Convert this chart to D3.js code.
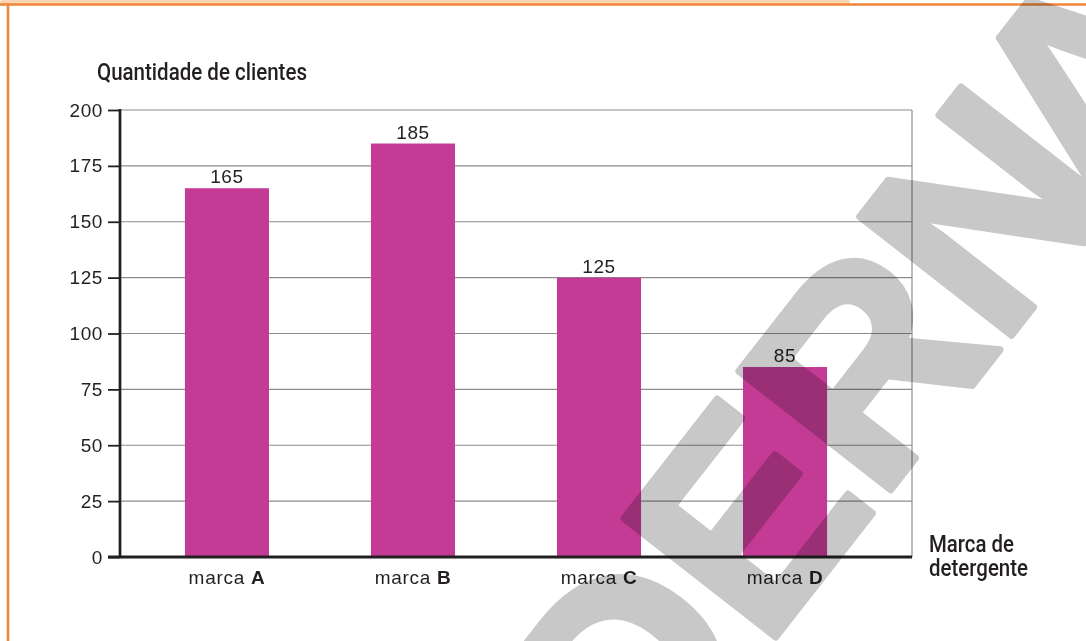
<!DOCTYPE html>
<html>
<head>
<meta charset="utf-8">
<script src="https://cdn.jsdelivr.net/npm/d3@7"></script>
<style>
  html, body { margin: 0; padding: 0; background: #fff; }
  svg { display: block; }
</style>
</head>
<body>
<svg id="chart" width="1086" height="641"></svg>
<script>
// Dados do gráfico
const brands = ["A", "B", "C", "D"];
const brandPrefix = "marca";
const clients = [165, 185, 125, 85];
const yTicks = [0, 25, 50, 75, 100, 125, 150, 175, 200];
const yTitle = "Quantidade de clientes";
const xTitleLines = ["Marca de", "detergente"];
const stampText = "MODERNA";

const W = 1086, H = 641;
const ink = "#231f20";
const barColor = "#c43b96";
const gridColor = "#8c8c8c";
const orange = "#f0853a";

const svg = d3.select("#chart");

// Moldura laranja
svg.append("rect").attr("x", 0).attr("y", 0).attr("width", 850).attr("height", 4)
  .attr("rx", 2).attr("fill", "#fcd6b2");
svg.append("line").attr("x1", 0).attr("x2", W).attr("y1", 4.5).attr("y2", 4.5)
  .attr("stroke", orange).attr("stroke-width", 2.5);
svg.append("line").attr("x1", 8).attr("x2", 8).attr("y1", 4).attr("y2", H)
  .attr("stroke", orange).attr("stroke-width", 2.5);

// Escalas
const plotLeft = 120, plotRight = 912, plotTop = 110, plotBottom = 557;
const y = d3.scaleLinear().domain([0, 200]).range([plotBottom, plotTop]);
const x = d3.scaleBand().domain(brands).range([plotLeft, 892])
  .paddingInner(0.548).paddingOuter(0.349);

// Linhas de grade
svg.append("g").selectAll("line")
  .data(yTicks.filter(d => d > 0))
  .join("line")
  .attr("x1", plotLeft).attr("x2", plotRight)
  .attr("y1", d => y(d)).attr("y2", d => y(d))
  .attr("stroke", gridColor).attr("stroke-width", 1.2);
svg.append("line")
  .attr("x1", plotRight).attr("x2", plotRight)
  .attr("y1", y(200)).attr("y2", y(0))
  .attr("stroke", gridColor).attr("stroke-width", 1.2);

// Barras
svg.append("g").selectAll("rect")
  .data(brands)
  .join("rect")
  .attr("x", d => x(d))
  .attr("width", x.bandwidth())
  .attr("y", (d, i) => y(clients[i]))
  .attr("height", (d, i) => y(0) - y(clients[i]))
  .attr("fill", barColor);

// Rótulos de valor
svg.append("g").selectAll("text")
  .data(brands)
  .join("text")
  .attr("x", d => x(d) + x.bandwidth() / 2)
  .attr("y", (d, i) => y(clients[i]) - 5)
  .attr("text-anchor", "middle")
  .attr("font-family", "Liberation Sans, Arial, sans-serif")
  .attr("font-size", 19)
  .attr("letter-spacing", 0.6)
  .attr("fill", ink)
  .text((d, i) => clients[i]);

// Eixo Y
const yAxis = d3.axisLeft(y).tickValues(yTicks).tickSize(12).tickPadding(5);
const gy = svg.append("g").attr("transform", `translate(${plotLeft},0)`).call(yAxis);
gy.select(".domain").remove();
gy.selectAll(".tick line").attr("stroke", ink).attr("stroke-width", 1.8);
gy.selectAll(".tick text")
  .attr("font-family", "Liberation Sans, Arial, sans-serif")
  .attr("font-size", 19)
  .attr("letter-spacing", 0.6)
  .attr("fill", ink);
svg.append("line")
  .attr("x1", plotLeft).attr("x2", plotLeft)
  .attr("y1", y(200) - 1).attr("y2", y(0))
  .attr("stroke", ink).attr("stroke-width", 2.7);

// Eixo X (linha base)
svg.append("line")
  .attr("x1", plotLeft - 12).attr("x2", plotRight)
  .attr("y1", y(0)).attr("y2", y(0))
  .attr("stroke", ink).attr("stroke-width", 2.8);

const xAxis = d3.axisBottom(x).tickSize(0).tickPadding(0).tickFormat(() => "");
const gx = svg.append("g").attr("transform", `translate(0,${y(0)})`).call(xAxis);
gx.select(".domain").remove();
gx.selectAll(".tick text").remove();
gx.selectAll(".tick").append("text")
  .attr("y", 27)
  .attr("text-anchor", "middle")
  .attr("font-family", "Liberation Sans, Arial, sans-serif")
  .attr("font-size", 19)
  .attr("letter-spacing", 0.7)
  .attr("fill", ink)
  .each(function (d) {
    const t = d3.select(this);
    t.append("tspan").text(brandPrefix + " ");
    t.append("tspan").attr("font-weight", "bold").text(d);
  });

// Títulos dos eixos
svg.append("text")
  .attr("x", 97).attr("y", 80)
  .attr("font-family", "Roboto, sans-serif")
  .attr("font-weight", 500)
  .attr("font-size", 23)
  .attr("textLength", 210).attr("lengthAdjust", "spacingAndGlyphs")
  .attr("fill", ink)
  .text(yTitle);

const xt = svg.append("g");
const xtLens = [85, 99];
xTitleLines.forEach((s, i) => {
  xt.append("text")
    .attr("x", 929).attr("y", 552 + i * 23.5)
    .attr("font-family", "Roboto, sans-serif")
    .attr("font-weight", 500)
    .attr("font-size", 23)
    .attr("textLength", xtLens[i]).attr("lengthAdjust", "spacingAndGlyphs")
    .attr("fill", ink)
    .text(s);
});

// Carimbo diagonal
svg.append("text")
  .attr("transform", "translate(764,652) rotate(-52)")
  .attr("x", -653)
  .attr("dx", "0 0 0 0 0 -6 -34")
  .attr("font-family", "Liberation Sans, Arial, sans-serif")
  .attr("font-weight", "bold")
  .attr("font-size", 280)
  .attr("fill", "#c8c8c8")
  .attr("stroke", "#c8c8c8")
  .attr("stroke-width", 7)
  .attr("stroke-linejoin", "round")
  .style("mix-blend-mode", "multiply")
  .text(stampText);
</script>
</body>
</html>
